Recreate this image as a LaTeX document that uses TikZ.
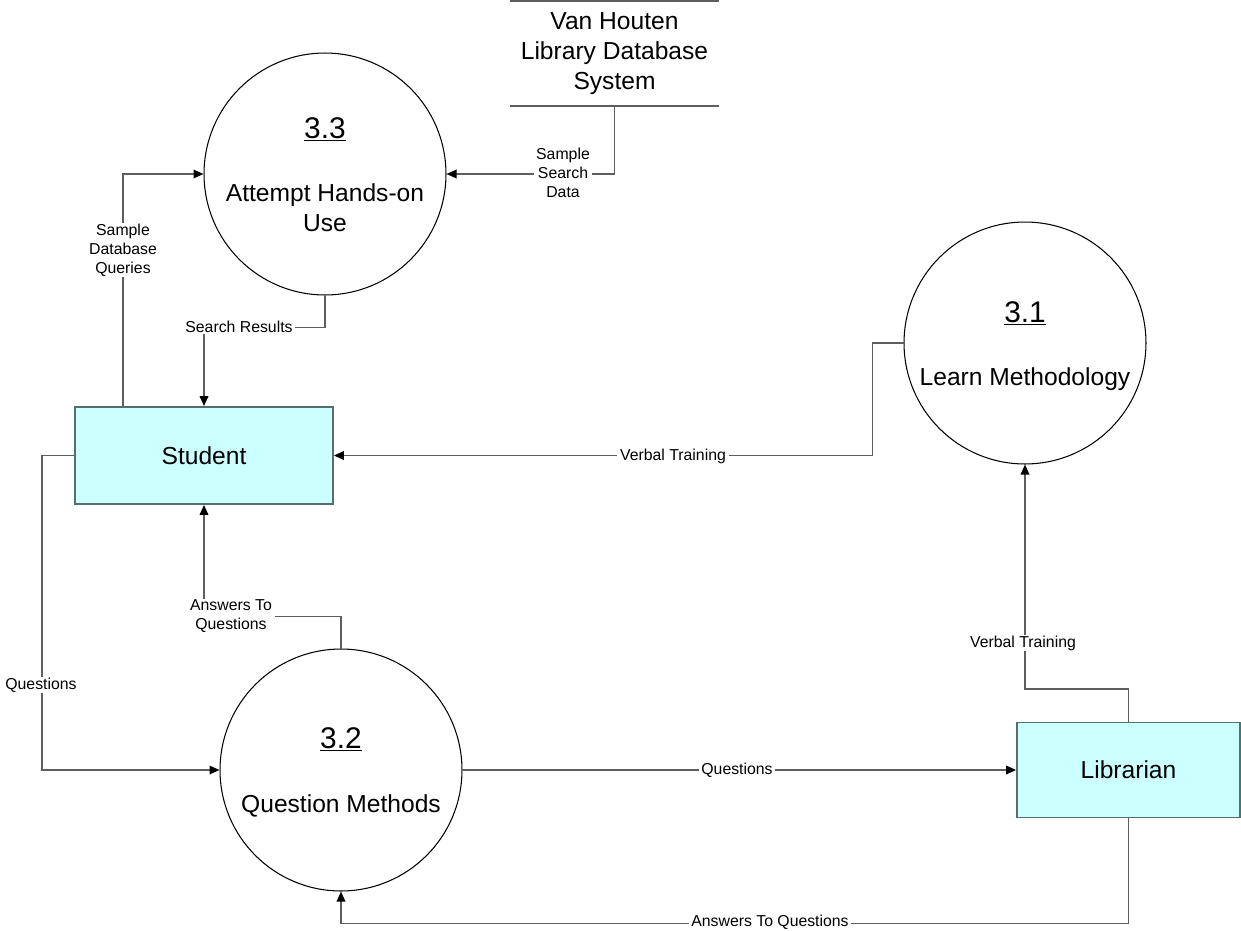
\documentclass[tikz,border=0pt]{standalone}
\usepackage{fontspec}
\setmainfont{Liberation Sans}
\usetikzlibrary{calc,arrows.meta}
\definecolor{entityfill}{HTML}{CCFFFF}
\definecolor{entityline}{HTML}{566E6E}
\definecolor{flowline}{HTML}{5E5E5E}

\begin{document}
\begin{tikzpicture}[x=0.02cm, y=0.02cm]
\tikzstyle{every node}+=[inner sep=0pt]
\tikzstyle{process}=[draw=black, line width=0.6pt, circle, minimum size=4.84cm]
\tikzstyle{entity}=[draw=entityline, line width=1pt, fill=entityfill, font=\fontsize{14}{17}\selectfont]
\tikzstyle{store}=[minimum width=4.18cm, minimum height=2.09cm, align=center, font=\fontsize{14}{17.07}\selectfont]
\tikzstyle{pnum}=[anchor=base, font=\fontsize{17}{20}\selectfont]
\tikzstyle{ptext}=[align=center, font=\fontsize{14}{17.07}\selectfont]
\tikzstyle{flow}=[draw=flowline, line width=1pt, -{Triangle[length=2mm, width=1.7mm, color=black]}]
\tikzstyle{flowlabel}=[fill=white, inner xsep=1.5pt, inner ysep=0.5pt, align=center, font=\fontsize{9}{10.8}\selectfont]
\useasboundingbox (0,0) rectangle (1241,-930);
\node [process] (p33) at (325,-174) {};
\node [pnum] (n33) at (325,-138) {\underline{3.3}};
\node [ptext] (t33) at (325,-208) {Attempt Hands-on\\Use};
\node [process] (p31) at (1025,-343) {};
\node [pnum] (n31) at (1025,-322) {\underline{3.1}};
\node [ptext, anchor=base] (t31) at (1025,-385) {Learn Methodology};
\node [process] (p32) at (341,-770) {};
\node [pnum] (n32) at (341,-748) {\underline{3.2}};
\node [ptext, anchor=base] (t32) at (341,-812) {Question Methods};
\node [entity, minimum width=5.16cm, minimum height=1.94cm] (student) at (204,-455.5) {Student};
\node [entity, minimum width=4.46cm, minimum height=1.9cm] (librarian) at (1128.5,-770) {Librarian};
\node [store] (store) at (614.5,-53.75) {Van Houten\\Library Database\\System};
\draw [flowline, line width=1.1pt] (store.north west) -- (store.north east);
\draw [flowline, line width=1.1pt] (store.south west) -- (store.south east);
\draw [flow] (store.south) |- (p33.east);
\draw [flow] ($(student.north)+(-81,0)$) |- (p33.west);
\draw [flow] (p33.south) -- ++(0,-32) -| (student.north);
\draw [flow] (p31.west) -- ++(-31,0) |- (student.east);
\draw [flow] (librarian.north) -- ++(0,33) -| (p31.south);
\draw [flow] (student.west) -- ++(-32,0) |- (p32.west);
\draw [flow] (p32.north) -- ++(0,32) -| (student.south);
\draw [flow] (p32.east) -- (p32.east -| librarian.west);
\draw [flow] (librarian.south) -- ++(0,-105) -| (p32.south);
\node [flowlabel] (lssd) at (563,-173) {Sample\\Search\\Data};
\node [flowlabel] (lsdq) at (123,-250) {Sample\\Database\\Queries};
\node [flowlabel] (lsr) at (239,-327) {Search Results};
\node [flowlabel] (lvt1) at (673,-456) {Verbal Training};
\node [flowlabel] (lvt2) at (1023,-643) {Verbal Training};
\node [flowlabel] (lq1) at (41,-685) {Questions};
\node [flowlabel] (lat1) at (231,-616) {Answers To\\Questions};
\node [flowlabel] (lq2) at (737,-770) {Questions};
\node [flowlabel] (lat2) at (770,-922.5) {Answers To Questions};
\end{tikzpicture}
\end{document}
